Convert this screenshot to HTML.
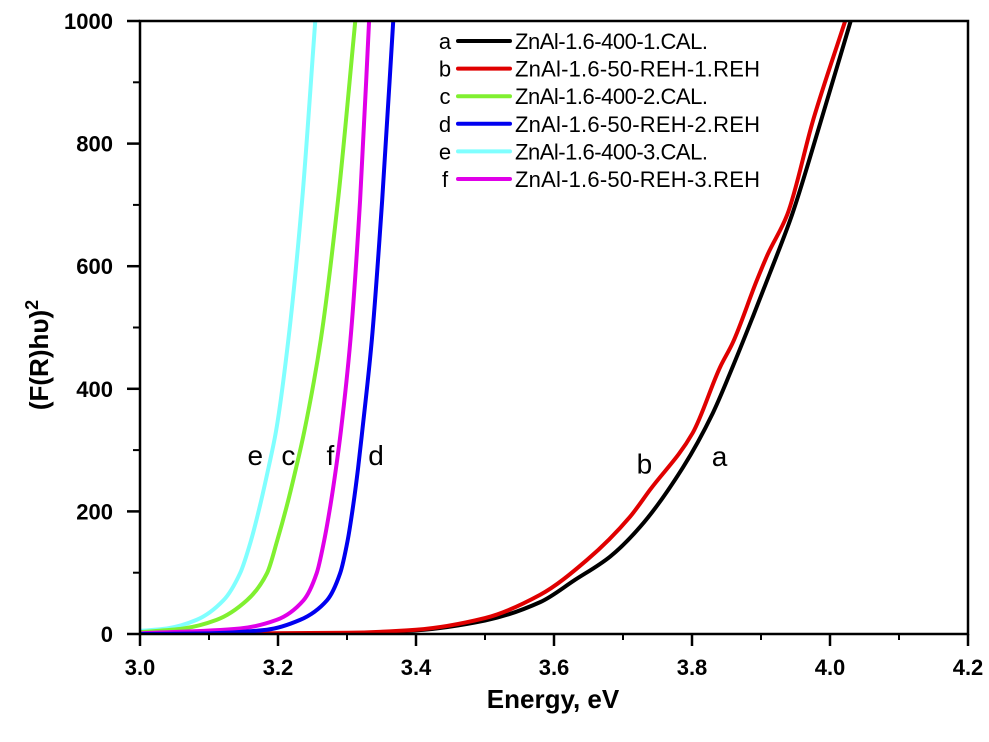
<!DOCTYPE html>
<html><head><meta charset="utf-8"><style>
body{margin:0;background:#fff;}
svg{display:block;font-family:"Liberation Sans",Arial,sans-serif;}
</style></head><body>
<svg id="chart" width="989" height="742" viewBox="0 0 989 742" xmlns="http://www.w3.org/2000/svg">
<defs><clipPath id="clip"><rect x="140" y="21" width="828" height="613"/></clipPath></defs>
<g id="curves" clip-path="url(#clip)"></g>
<rect x="140" y="21" width="828" height="613" fill="none" stroke="#000" stroke-width="2.5"/>
<g id="axes"></g>
<g id="labels"></g>
<g id="legend"></g>
<text x="553" y="708" font-size="26" font-weight="bold" text-anchor="middle">Energy, eV</text>
<text transform="translate(48,355) rotate(-90)" font-size="26" font-weight="bold" text-anchor="middle">(F(R)hυ)<tspan font-size="18" dy="-10">2</tspan></text>
</svg>
<script>
const xTicks=[3.0,3.2,3.4,3.6,3.8,4.0,4.2];
const xTickLabels=["3.0","3.2","3.4","3.6","3.8","4.0","4.2"];
const yTicks=[0,200,400,600,800,1000];
const yTickLabels=["0","200","400","600","800","1000"];
const seriesNames=["ZnAl-1.6-400-1.CAL.","ZnAl-1.6-50-REH-1.REH","ZnAl-1.6-400-2.CAL.","ZnAl-1.6-50-REH-2.REH","ZnAl-1.6-400-3.CAL.","ZnAl-1.6-50-REH-3.REH"];
const seriesLetters=["a","b","c","d","e","f"];
const seriesColors=["#000000","#e00000","#80f030","#0000f0","#80ffff","#e000e8"];
const seriesA=[[3.0,0],[3.3,1],[3.4,6],[3.5,22],[3.58,52],[3.63,88],[3.681,126],[3.725,175],[3.787,272],[3.83,360],[3.859,436],[3.888,517],[3.913,589],[3.945,684],[3.985,830],[4.03,1000]];
const seriesB=[[3.0,0],[3.3,2],[3.4,7],[3.5,26],[3.58,64],[3.648,121],[3.71,191],[3.739,235],[3.801,328],[3.841,436],[3.859,475],[3.894,577],[3.91,620],[3.938,684],[3.976,840],[4.022,1000]];
const seriesC=[[3.0,3],[3.063,9],[3.111,23],[3.155,55],[3.184,99],[3.199,153],[3.213,210],[3.226,270],[3.238,330],[3.262,480],[3.287,708],[3.312,1000]];
const seriesD=[[3.0,0],[3.1,1],[3.184,7],[3.232,23],[3.271,55],[3.29,99],[3.301,153],[3.309,210],[3.316,270],[3.322,330],[3.336,480],[3.351,708],[3.367,1000]];
const seriesE=[[3.0,5],[3.039,9],[3.082,23],[3.121,55],[3.145,99],[3.161,153],[3.174,210],[3.186,270],[3.197,330],[3.215,480],[3.235,708],[3.254,1000]];
const seriesF=[[3.0,1],[3.145,9],[3.198,23],[3.237,55],[3.256,99],[3.267,153],[3.276,210],[3.284,270],[3.291,330],[3.305,480],[3.319,708],[3.332,1000]];
const curveLabelText=["e","c","f","d","b","a"];
const curveLabelX=[3.167,3.215,3.276,3.342,3.731,3.84];
const curveLabelY=[292,292,292,292,278,290];

const NS="http://www.w3.org/2000/svg";
const X0=140,X1=968,Y0=634,Y1=21;
function xs(v){return X0+(v-3.0)/(4.2-3.0)*(X1-X0);}
function ys(v){return Y0-(v-0)/(1000-0)*(Y0-Y1);}
function mk(tag,attrs,parent){const e=document.createElementNS(NS,tag);for(const k in attrs)e.setAttribute(k,attrs[k]);parent.appendChild(e);return e;}
const axes=document.getElementById('axes');
for(let i=0;i<xTicks.length;i++){
  const x=xs(xTicks[i]);
  const t=mk('line',{x1:x,x2:x,y1:Y0,y2:Y0+12,stroke:'#000','stroke-width':2.5},axes);
  
  
  const l=mk('text',{x:x,y:Y0+41,'font-size':22,'font-weight':'bold','text-anchor':'middle'},axes);
  l.textContent=xTickLabels[i];
  
  
  if(i<xTicks.length-1){const xm=xs(xTicks[i]+0.1);
    const m=mk('line',{x1:xm,x2:xm,y1:Y0,y2:Y0+6,stroke:'#000','stroke-width':2},axes);
    
    }
}
for(let i=0;i<yTicks.length;i++){
  const y=ys(yTicks[i]);
  const t=mk('line',{x1:X0-13,x2:X0,y1:y,y2:y,stroke:'#000','stroke-width':2.5},axes);
  
  
  const l=mk('text',{x:X0-27,y:y+8,'font-size':22,'font-weight':'bold','text-anchor':'end'},axes);
  l.textContent=yTickLabels[i];
  
  
  if(i<yTicks.length-1){const ym=ys(yTicks[i]+100);
    const m=mk('line',{x1:X0-7,x2:X0,y1:ym,y2:ym,stroke:'#000','stroke-width':2},axes);
    
    }
}
function monoPath(d){
  const n=d.length,x=d.map(q=>q[0]),y=d.map(q=>q[1]);
  const dx=[],s=[];
  for(let i=0;i<n-1;i++){dx.push(x[i+1]-x[i]);s.push((y[i+1]-y[i])/dx[i]);}
  const m=[s[0]];
  for(let i=1;i<n-1;i++){m.push(s[i-1]*s[i]<=0?0:(dx[i-1]+dx[i])*3/((2*dx[i]+dx[i-1])/s[i-1]+(dx[i]+2*dx[i-1])/s[i]));}
  m.push(s[n-2]);
  let out='M'+xs(x[0]).toFixed(2)+','+ys(y[0]).toFixed(2);
  for(let i=0;i<n-1;i++){
    const h=dx[i];
    out+=' C'+xs(x[i]+h/3).toFixed(2)+','+ys(y[i]+m[i]*h/3).toFixed(2)+' '+xs(x[i+1]-h/3).toFixed(2)+','+ys(y[i+1]-m[i+1]*h/3).toFixed(2)+' '+xs(x[i+1]).toFixed(2)+','+ys(y[i+1]).toFixed(2);
  }
  return out;
}
const curves=document.getElementById('curves');
const allSeries=[seriesA,seriesB,seriesC,seriesD,seriesE,seriesF];
const order=[0,1,4,2,5,3];
for(const i of order){
  const path=mk('path',{d:monoPath(allSeries[i]),fill:'none',stroke:seriesColors[i],'stroke-width':4,'stroke-linejoin':'round'},curves);
  
  
}
const labels=document.getElementById('labels');
for(let i=0;i<curveLabelText.length;i++){
  const t=mk('text',{x:xs(curveLabelX[i]),y:ys(curveLabelY[i])+10,'font-size':28,'text-anchor':'middle'},labels);
  t.textContent=curveLabelText[i];
  
  
}
const legend=document.getElementById('legend');
for(let i=0;i<seriesNames.length;i++){
  const y=41+i*27.6;
  const g=mk('g',{},legend);
  
  
  const a=mk('text',{x:445,y:y+8,'font-size':22,'text-anchor':'middle'},g);a.textContent=seriesLetters[i];
  mk('line',{x1:458,x2:510,y1:y,y2:y,stroke:seriesColors[i],'stroke-width':4,'stroke-linecap':'round'},g);
  const n=mk('text',{x:515,y:y+8,'font-size':22,textLength:i%2?245:193},g);n.textContent=seriesNames[i];
}
</script>
</body></html>
